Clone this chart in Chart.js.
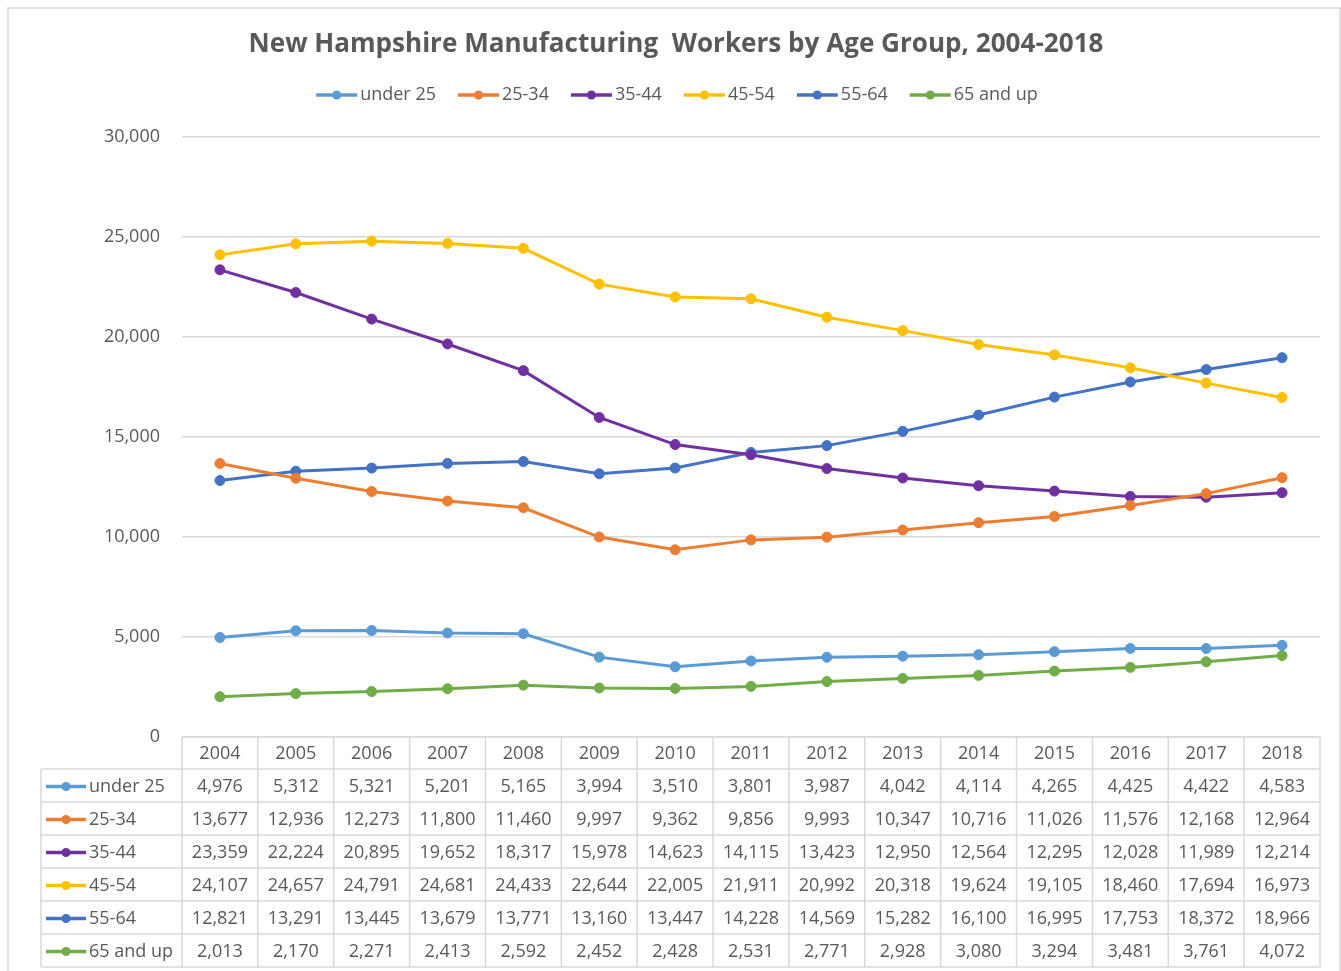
<!DOCTYPE html>
<html><head><meta charset="utf-8">
<script src="https://cdn.jsdelivr.net/npm/chart.js@4.4.1/dist/chart.umd.min.js"></script>
<style>html,body{margin:0;padding:0;background:#fff;}canvas{display:block;}</style>
</head><body>
<canvas id="c" width="1341" height="971"></canvas>
<script>
const years = ['2004','2005','2006','2007','2008','2009','2010','2011','2012','2013','2014','2015','2016','2017','2018'];
const seriesNames = ['under 25','25-34','35-44','45-54','55-64','65 and up'];
const under25 = [4976,5312,5321,5201,5165,3994,3510,3801,3987,4042,4114,4265,4425,4422,4583];
const age25to34 = [13677,12936,12273,11800,11460,9997,9362,9856,9993,10347,10716,11026,11576,12168,12964];
const age35to44 = [23359,22224,20895,19652,18317,15978,14623,14115,13423,12950,12564,12295,12028,11989,12214];
const age45to54 = [24107,24657,24791,24681,24433,22644,22005,21911,20992,20318,19624,19105,18460,17694,16973];
const age55to64 = [12821,13291,13445,13679,13771,13160,13447,14228,14569,15282,16100,16995,17753,18372,18966];
const age65up = [2013,2170,2271,2413,2592,2452,2428,2531,2771,2928,3080,3294,3481,3761,4072];
const yTicks = [0,5000,10000,15000,20000,25000,30000];
const titleText = 'New Hampshire Manufacturing  Workers by Age Group, 2004-2018';
const colors = ['#5B9BD5','#ED7D31','#7030A0','#FFC000','#4472C4','#70AD47'];

const seriesValues = [under25, age25to34, age35to44, age45to54, age55to64, age65up];
const TEXT = '#595959';
const GRID = '#d9d9d9';
const FONT = "'Open Sans', 'Liberation Sans', sans-serif";
const fmt = v => v.toLocaleString('en-US');

function drawMarker(ctx, x, y, color, len) {
  ctx.save();
  ctx.strokeStyle = color; ctx.lineWidth = 3.5; ctx.lineCap = 'butt';
  ctx.beginPath(); ctx.moveTo(x, y); ctx.lineTo(x + len, y); ctx.stroke();
  ctx.fillStyle = color;
  ctx.beginPath(); ctx.arc(x + len / 2, y, 4.5, 0, Math.PI * 2); ctx.fill();
  ctx.restore();
}

const decor = {
  id: 'decor',
  beforeDraw(chart) {
    const ctx = chart.ctx;
    ctx.save();
    ctx.fillStyle = '#fff';
    ctx.fillRect(0, 0, chart.width, chart.height);
    ctx.strokeStyle = GRID; ctx.lineWidth = 1.5;
    ctx.strokeRect(8, 8, 1332, 975);
    ctx.restore();
  },
  afterDraw(chart) {
    const ctx = chart.ctx;
    const ca = chart.chartArea;
    const xs = chart.scales.x;
    ctx.save();
    // Title, fitted to reference width
    let ts = 26;
    ctx.font = `bold ${ts}px ${FONT}`;
    const tw = ctx.measureText(titleText).width;
    ts = ts * 855 / tw;
    ctx.font = `bold ${ts}px ${FONT}`;
    ctx.fillStyle = TEXT; ctx.textAlign = 'center'; ctx.textBaseline = 'middle';
    ctx.fillText(titleText, 676, 45);

    // Legend
    ctx.font = `18px ${FONT}`;
    const mLen = 41, gapT = 3, gapI = 22;
    const widths = seriesNames.map(n => mLen + gapT + ctx.measureText(n).width);
    const total = widths.reduce((a, b) => a + b, 0) + gapI * (seriesNames.length - 1);
    let lx = 677 - total / 2;
    ctx.textAlign = 'left';
    seriesNames.forEach((n, i) => {
      drawMarker(ctx, lx, 95, colors[i], mLen);
      ctx.fillStyle = TEXT;
      ctx.fillText(n, lx + mLen + gapT, 95);
      lx += widths[i] + gapI;
    });

    // Data table
    const colW = (ca.right - ca.left) / years.length;
    const top = ca.bottom, rowH = 33, hdrBottom = top + 32;
    const labLeft = 41;
    const tblBottom = hdrBottom + rowH * seriesNames.length;
    ctx.strokeStyle = GRID; ctx.lineWidth = 1.5;
    ctx.beginPath();
    ctx.moveTo(ca.left, top); ctx.lineTo(ca.right, top);
    for (let r = 0; r <= seriesNames.length; r++) {
      const y = hdrBottom + r * rowH;
      ctx.moveTo(labLeft, y); ctx.lineTo(ca.right, y);
    }
    ctx.moveTo(labLeft, hdrBottom); ctx.lineTo(labLeft, tblBottom);
    for (let c = 0; c <= years.length; c++) {
      const x = ca.left + c * colW;
      ctx.moveTo(x, top); ctx.lineTo(x, tblBottom);
    }
    ctx.stroke();

    ctx.font = `18px ${FONT}`;
    ctx.fillStyle = TEXT; ctx.textBaseline = 'middle'; ctx.textAlign = 'center';
    years.forEach((y, i) => {
      ctx.fillText(y, xs.getPixelForValue(i), (top + hdrBottom) / 2 + 1);
    });
    seriesNames.forEach((n, r) => {
      const cy = hdrBottom + r * rowH + rowH / 2 + 1;
      drawMarker(ctx, 46, cy, colors[r], 40);
      ctx.fillStyle = TEXT; ctx.textAlign = 'left';
      ctx.fillText(n, 89, cy);
      ctx.textAlign = 'center';
      seriesValues[r].forEach((v, i) => {
        ctx.fillText(fmt(v), xs.getPixelForValue(i), cy);
      });
    });
    ctx.restore();
  }
};

new Chart(document.getElementById('c'), {
  type: 'line',
  data: {
    labels: years,
    datasets: seriesNames.map((n, i) => ({
      label: n,
      data: seriesValues[i],
      borderColor: colors[i],
      backgroundColor: colors[i],
      pointBackgroundColor: colors[i],
      pointBorderColor: colors[i],
      borderWidth: 3,
      pointRadius: 5,
      pointBorderWidth: 1,
      tension: 0,
      fill: false
    }))
  },
  options: {
    responsive: false,
    animation: false,
    layout: { padding: { left: 8, right: 21, top: 137, bottom: 234 } },
    plugins: { legend: { display: false }, title: { display: false }, tooltip: { enabled: false } },
    scales: {
      x: { type: 'category', offset: true, display: false },
      y: {
        min: 0, max: 30000,
        afterBuildTicks(scale) { scale.ticks = yTicks.map(v => ({ value: v })); },
        afterFit(scale) { scale.width = 174; },
        border: { display: false },
        grid: { color: GRID, lineWidth: 1.5, drawTicks: false },
        ticks: {
          padding: 22, color: TEXT,
          font: { family: FONT, size: 18 },
          callback: v => fmt(v)
        }
      }
    }
  },
  plugins: [decor]
});
</script>
</body></html>
